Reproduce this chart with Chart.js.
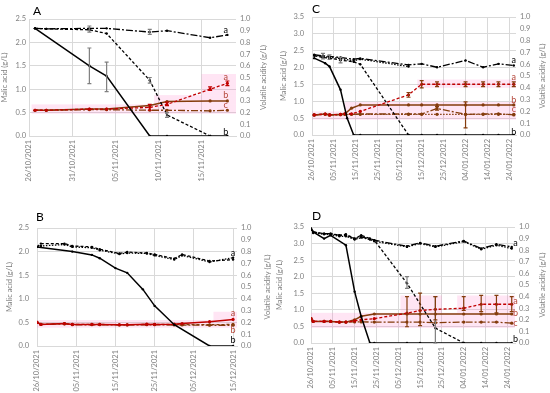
<!DOCTYPE html>
<html>
<head>
<title>Malic acid and volatile acidity</title>
<script src="https://cdn.jsdelivr.net/npm/chart.js@4.4.0/dist/chart.umd.min.js"></script>
<style>
  body{margin:0;background:#fff;}
  #wrap{position:relative;width:550px;height:393px;overflow:hidden;}
  canvas{position:absolute;}
  .tag{position:absolute;font:12px Lato, sans-serif;color:#000;}
</style>
</head>
<body>
<div id="wrap">
  <canvas id="chartA" width="275" height="195" style="left:0;top:0"></canvas>
  <canvas id="chartC" width="275" height="195" style="left:275px;top:0"></canvas>
  <canvas id="chartB" width="275" height="198" style="left:0;top:195px"></canvas>
  <canvas id="chartD" width="275" height="198" style="left:275px;top:195px"></canvas>
  <div class="tag" style="left:33px;top:3px">A</div>
  <div class="tag" style="left:312px;top:1px">C</div>
  <div class="tag" style="left:36px;top:209px">B</div>
  <div class="tag" style="left:312px;top:208px">D</div>
</div>
<script>
// ---------- data (x = days after 26/10/2021) ----------
// Panel A
var aX      = [0.7, 2, 7, 9, 14, 16, 21, 23];
var aSolidX = [0.7, 7, 9, 14, 16, 21, 23];
var aSolid  = [2.3, 1.5, 1.28, 0, 0, 0, 0];
var aDashX  = [0.7, 2, 7, 9, 14, 16, 21];
var aDash   = [2.3, 2.29, 2.27, 2.19, 1.19, 0.45, 0];
var aDashDot = [2.3, 2.29, 2.3, 2.3, 2.22, 2.25, 2.1, 2.16];
var aVaDash  = [0.22, 0.22, 0.23, 0.23, 0.245, 0.27, 0.40, 0.45];
var aVaSolid = [0.22, 0.22, 0.23, 0.23, 0.26, 0.295, 0.30, 0.30];
var aVaDashDot = [0.22, 0.22, 0.225, 0.225, 0.22, 0.22, 0.215, 0.22];

// Panel B
var bSolidX = [0, 9, 14, 16, 20, 23, 27, 30, 35, 44, 50];
var bSolid  = [2.1, 2.0, 1.93, 1.86, 1.65, 1.55, 1.2, 0.85, 0.45, 0, 0];
var bX      = [0, 1, 7, 9, 14, 16, 21, 23, 28, 30, 35, 37, 44, 50];
var bDash   = [2.1, 2.17, 2.17, 2.12, 2.1, 2.05, 1.96, 1.99, 1.97, 1.94, 1.85, 1.94, 1.8, 1.83];
var bDot    = [2.1, 2.12, 2.15, 2.1, 2.08, 2.03, 1.95, 1.97, 1.96, 1.92, 1.83, 1.92, 1.78, 1.87];
var bVaSolid = [0.2, 0.183, 0.19, 0.183, 0.183, 0.183, 0.18, 0.18, 0.185, 0.183, 0.185, 0.19, 0.206, 0.225];
var bVaDash  = [0.2, 0.183, 0.19, 0.183, 0.183, 0.183, 0.18, 0.18, 0.183, 0.183, 0.182, 0.182, 0.18, 0.183];
var bVaDashDot = [0.2, 0.183, 0.187, 0.18, 0.18, 0.18, 0.178, 0.178, 0.18, 0.18, 0.178, 0.178, 0.176, 0.176];

// Panel C
var cX      = [1, 5, 8, 13, 19, 22, 44, 50, 57, 70, 78, 85, 92];
var cSolidX = [1, 6, 8, 13, 16, 19, 22, 44, 50, 57, 70, 78, 85, 92];
var cSolid  = [2.28, 2.13, 2.03, 1.34, 0.5, 0, 0, 0, 0, 0, 0, 0, 0, 0];
var cDashX  = [1, 5, 8, 13, 19, 22, 44];
var cDash   = [2.35, 2.3, 2.28, 2.22, 2.17, 2.1, 0];
var cDot    = [2.37, 2.33, 2.3, 2.27, 2.2, 2.25, 2.03];
var cDashDot = [2.38, 2.35, 2.33, 2.3, 2.25, 2.27, 2.08, 2.11, 2.01, 2.21, 2.01, 2.11, 2.06];
var cRedX   = [1, 6, 8, 13, 15, 18, 22, 44, 50, 57, 70, 78, 85, 92];
var cVaDash  = [0.17, 0.178, 0.17, 0.175, 0.18, 0.18, 0.2, 0.34, 0.43, 0.43, 0.43, 0.43, 0.43, 0.43];
var cVaSolid = [0.17, 0.178, 0.17, 0.175, 0.18, 0.227, 0.255, 0.255, 0.255, 0.255, 0.255, 0.255, 0.255, 0.255];
var cVaDashDot = [0.17, 0.178, 0.17, 0.172, 0.175, 0.175, 0.178, 0.178, 0.178, 0.225, 0.175, 0.178, 0.18, 0.17];
var cVaDot   = [0.17, 0.175, 0.17, 0.172, 0.175, 0.175, 0.175, 0.175, 0.175, 0.175, 0.175, 0.175, 0.175, 0.175];

// Panel D
var dSolidX = [0, 1, 6, 9, 16, 20, 23, 27, 29, 44, 50, 57, 70, 78, 85, 92];
var dSolid  = [3.45, 3.35, 3.15, 3.25, 2.95, 1.55, 0.8, 0, 0, 0, 0, 0, 0, 0, 0, 0];
var dDashX  = [0, 1, 6, 9, 13, 16, 20, 23, 27, 29, 44, 57, 70];
var dDash   = [3.45, 3.35, 3.3, 3.3, 3.25, 3.28, 3.15, 3.25, 3.15, 3.1, 1.8, 0.45, 0];
var dX      = [0, 1, 6, 9, 13, 16, 20, 23, 27, 29, 44, 50, 57, 70, 78, 85, 92];
var dDashDot = [3.45, 3.35, 3.3, 3.3, 3.25, 3.25, 3.15, 3.2, 3.15, 3.1, 2.92, 3.02, 2.92, 3.08, 2.85, 2.98, 2.9];
var dDot     = [3.43, 3.32, 3.28, 3.27, 3.22, 3.22, 3.12, 3.18, 3.12, 3.07, 2.9, 3.0, 2.9, 3.06, 2.83, 2.95, 2.85];
var dRedX   = [0, 1, 6, 9, 13, 16, 20, 23, 29, 44, 50, 57, 70, 78, 85, 92];
var dVaDash  = [0.21, 0.186, 0.186, 0.186, 0.18, 0.18, 0.19, 0.2, 0.21, 0.257, 0.28, 0.29, 0.3, 0.334, 0.334, 0.334];
var dVaSolid = [0.21, 0.186, 0.186, 0.186, 0.18, 0.18, 0.2, 0.23, 0.25, 0.25, 0.25, 0.25, 0.25, 0.25, 0.25, 0.25];
var dVaDashDot = [0.21, 0.186, 0.186, 0.186, 0.18, 0.18, 0.182, 0.182, 0.18, 0.18, 0.18, 0.175, 0.18, 0.18, 0.18, 0.171];

// error bars: [day, low, high]
var aSolidErr = [[7, 1.12, 1.88], [9, 0.95, 1.58]];
var aDashErr  = [[14, 1.13, 1.25], [16, 0.4, 0.5]];
var aDashDotErr = [[7, 2.22, 2.35], [14, 2.17, 2.28]];
var aVaErr = [[14, 0.22, 0.27], [16, 0.26, 0.29], [21, 0.39, 0.42], [23, 0.43, 0.47]];
var cDashErr = [[5, 2.26, 2.42], [8, 2.24, 2.38], [13, 2.14, 2.3]];
var cVaErr = [[44, 0.32, 0.36], [50, 0.4, 0.46], [57, 0.41, 0.45], [70, 0.41, 0.45], [78, 0.41, 0.45], [85, 0.41, 0.45], [92, 0.41, 0.45]];
var cVaDashDotErr = [[57, 0.21, 0.24], [70, 0.06, 0.28]];
var dDashErr = [[44, 1.65, 2.0], [57, 0, 1.4]];
var dVaErr = [[44, 0.14, 0.4], [50, 0.15, 0.43], [57, 0.2, 0.4], [70, 0.28, 0.4], [78, 0.27, 0.41], [85, 0.26, 0.41], [92, 0.27, 0.4]];

// pink shaded boxes: [dayFrom, dayTo, low, high] on the volatile acidity axis
var aBands = [[0.3, 24, 0.19, 0.27], [14.5, 24, 0.27, 0.35], [20, 24, 0.35, 0.53]];
var bBands = [[0, 51, 0.155, 0.22], [45, 51, 0.22, 0.29]];
var cBands = [[0, 93, 0.13, 0.2], [15, 93, 0.2, 0.28], [48, 93, 0.4, 0.47]];
var dBands = [[0, 93.5, 0.13, 0.26], [41, 60, 0.26, 0.41], [67, 93.5, 0.26, 0.41]];

// letters beside the line ends: [text, day, value, axis, colour]
var BLACK = '#000000', RED = '#c00000', BROWN = '#843c0c', LBL = '#b5473a';
var aTags = [['a', 22.8, 2.26, 'y', BLACK], ['b', 22.8, 0.09, 'y', BLACK], ['a', 22.8, 0.5, 'y2', LBL], ['b', 22.8, 0.35, 'y2', LBL], ['c', 22.8, 0.265, 'y2', LBL]];
var bTags = [['a', 50, 1.96, 'y', BLACK], ['b', 50, 0.13, 'y', BLACK], ['a', 50, 0.276, 'y2', LBL], ['b', 50, 0.135, 'y2', LBL]];
var cTags = [['a', 92, 2.23, 'y', BLACK], ['b', 92, 0.1, 'y', BLACK], ['a', 92, 0.49, 'y2', LBL], ['b', 92, 0.3, 'y2', LBL], ['c', 92, 0.22, 'y2', LBL]];
var dTags = [['a', 93.7, 3.0, 'y', BLACK], ['b', 93.7, 0.12, 'y', BLACK], ['a', 93.7, 0.36, 'y2', LBL], ['b', 93.7, 0.255, 'y2', LBL], ['c', 93.7, 0.17, 'y2', LBL]];

// ---------- helpers ----------
var FONT = 'Lato, sans-serif';
var TICKC = '#7f7f7f', GRIDC = '#d9d9d9', GREY = '#7f7f7f';
var base = new Date(2021, 9, 26);

function pad(n) { return (n < 10 ? '0' : '') + n; }
function dayLabel(v) {
  var d = new Date(base.getTime());
  d.setDate(d.getDate() + v);
  return pad(d.getDate()) + '/' + pad(d.getMonth() + 1) + '/' + d.getFullYear();
}
function pts(xs, ys) { return xs.map(function (x, i) { return { x: x, y: ys[i] }; }); }

var DASHES = { solid: [], dash: [3, 2], dashdot: [7, 2, 2, 2], dot: [1.5, 1.5] };

function line(xs, ys, axis, color, kind, errs, errColor) {
  return {
    data: pts(xs, ys),
    yAxisID: axis,
    borderColor: color,
    backgroundColor: color,
    borderWidth: kind == 'solid' ? 1.5 : 1.3,
    borderDash: DASHES[kind],
    pointRadius: axis == 'y' ? 1.2 : 1.6,
    pointBorderWidth: 0,
    tension: 0,
    errs: errs || null,
    errColor: errColor || color
  };
}

var bandsPlugin = {
  id: 'bands',
  beforeDatasetsDraw: function (chart, args, opts) {
    var ctx = chart.ctx, xs = chart.scales.x, ys = chart.scales.y2;
    ctx.save();
    ctx.fillStyle = 'rgba(255,110,195,0.18)';
    (opts.boxes || []).forEach(function (b) {
      var x0 = xs.getPixelForValue(b[0]), x1 = xs.getPixelForValue(b[1]);
      var y0 = ys.getPixelForValue(b[3]), y1 = ys.getPixelForValue(b[2]);
      ctx.fillRect(x0, y0, x1 - x0, y1 - y0);
    });
    ctx.restore();
  }
};

var errPlugin = {
  id: 'errs',
  afterDatasetsDraw: function (chart) {
    var ctx = chart.ctx, xs = chart.scales.x;
    chart.data.datasets.forEach(function (ds) {
      if (!ds.errs) return;
      var ys = chart.scales[ds.yAxisID];
      ctx.save();
      ctx.strokeStyle = ds.errColor;
      ctx.lineWidth = 1.2;
      ds.errs.forEach(function (e) {
        var px = xs.getPixelForValue(e[0]), lo = ys.getPixelForValue(e[1]), hi = ys.getPixelForValue(e[2]);
        ctx.beginPath();
        ctx.moveTo(px, lo); ctx.lineTo(px, hi);
        ctx.moveTo(px - 2, lo); ctx.lineTo(px + 2, lo);
        ctx.moveTo(px - 2, hi); ctx.lineTo(px + 2, hi);
        ctx.stroke();
      });
      ctx.restore();
    });
  }
};

// letters a/b/c plus the right-hand axis title (reads bottom to top, like the left one)
var tagPlugin = {
  id: 'tags',
  afterDraw: function (chart, args, opts) {
    var ctx = chart.ctx, xs = chart.scales.x, area = chart.chartArea;
    ctx.save();
    ctx.font = '9px ' + FONT;
    ctx.textAlign = 'center';
    ctx.textBaseline = 'middle';
    (opts.items || []).forEach(function (t) {
      ctx.fillStyle = t[4];
      ctx.fillText(t[0], xs.getPixelForValue(t[1]), chart.scales[t[3]].getPixelForValue(t[2]));
    });
    ctx.translate(opts.rtitleX, (area.top + area.bottom) / 2);
    ctx.rotate(-Math.PI / 2);
    ctx.font = '7.5px ' + FONT;
    ctx.fillStyle = GREY;
    ctx.fillText('Volatile acidity (g/L)', 0, 0);
    ctx.restore();
  }
};

function panel(id, box, xMax, xStep, yMax, datasets, bands, tags) {
  var tickFont = { family: FONT, size: 7.5 };
  return new Chart(document.getElementById(id), {
    type: 'line',
    data: { datasets: datasets },
    plugins: [bandsPlugin, errPlugin, tagPlugin],
    options: {
      responsive: false,
      animation: false,
      devicePixelRatio: 1,
      layout: { padding: { top: box.top, left: 0, right: 0, bottom: 0 } },
      plugins: {
        legend: { display: false },
        tooltip: { enabled: false },
        bands: { boxes: bands },
        tags: { items: tags, rtitleX: box.rtitle }
      },
      scales: {
        x: {
          type: 'linear', min: 0, max: xMax,
          ticks: { stepSize: xStep, includeBounds: false, autoSkip: false, maxRotation: 90, minRotation: 90,
                   padding: 4, color: TICKC, font: tickFont, callback: dayLabel },
          grid: { color: GRIDC, drawTicks: false },
          border: { color: GRIDC },
          afterFit: function (s) { s.height = box.h - box.bottom; }
        },
        y: {
          position: 'left', min: 0, max: yMax,
          ticks: { stepSize: 0.5, autoSkip: false, padding: box.lpad, color: TICKC, font: tickFont,
                   callback: function (v) { return v.toFixed(1); } },
          grid: { color: GRIDC, drawTicks: false },
          border: { display: false },
          title: { display: true, text: 'Malic acid (g/L)', color: GREY, font: tickFont, padding: { top: box.ltitle, bottom: 0 } },
          afterFit: function (s) { s.width = box.left; }
        },
        y2: {
          position: 'right', min: 0, max: 1,
          ticks: { stepSize: 0.1, autoSkip: false, padding: 4, color: TICKC, font: tickFont,
                   callback: function (v) { return v.toFixed(1); } },
          grid: { display: false, drawTicks: false },
          border: { display: false },
          afterFit: function (s) { s.width = box.w - box.right; }
        }
      }
    }
  });
}

// ---------- panels ----------
panel('chartA', { w: 275, h: 195, left: 29, right: 236, top: 19, bottom: 136, lpad: 3, ltitle: 0, rtitle: 264 }, 24, 5, 2.5, [
  line(aSolidX, aSolid, 'y', BLACK, 'solid', aSolidErr, GREY),
  line(aDashX, aDash, 'y', BLACK, 'dash', aDashErr, GREY),
  line(aX, aDashDot, 'y', BLACK, 'dashdot', aDashDotErr, GREY),
  line(aX, aVaDash, 'y2', RED, 'dash', aVaErr, RED),
  line(aX, aVaSolid, 'y2', BROWN, 'solid'),
  line(aX, aVaDashDot, 'y2', BROWN, 'dashdot')
], aBands, aTags);

panel('chartC', { w: 275, h: 195, left: 37, right: 241, top: 17, bottom: 135, lpad: 8, ltitle: 4, rtitle: 268 }, 93, 10, 3.5, [
  line(cSolidX, cSolid, 'y', BLACK, 'solid'),
  line(cDashX, cDash, 'y', BLACK, 'dash', cDashErr, GREY),
  line(cDashX, cDot, 'y', BLACK, 'dot'),
  line(cX, cDashDot, 'y', BLACK, 'dashdot'),
  line(cRedX, cVaDash, 'y2', RED, 'dash', cVaErr, BROWN),
  line(cRedX, cVaSolid, 'y2', BROWN, 'solid'),
  line(cRedX, cVaDashDot, 'y2', BROWN, 'dashdot', cVaDashDotErr, BROWN),
  line(cRedX, cVaDot, 'y2', BROWN, 'dot')
], cBands, cTags);

panel('chartB', { w: 275, h: 198, left: 37, right: 237, top: 33, bottom: 151, lpad: 8, ltitle: 5, rtitle: 268 }, 51, 10, 2.5, [
  line(bSolidX, bSolid, 'y', BLACK, 'solid'),
  line(bX, bDash, 'y', BLACK, 'dash'),
  line(bX, bDot, 'y', BLACK, 'dot'),
  line(bX, bVaSolid, 'y2', RED, 'solid'),
  line(bX, bVaDash, 'y2', BROWN, 'dash'),
  line(bX, bVaDashDot, 'y2', BROWN, 'dashdot')
], bBands, bTags);

panel('chartD', { w: 275, h: 198, left: 36, right: 240, top: 32, bottom: 148, lpad: 7, ltitle: 0, rtitle: 268 }, 93.5, 10, 3.5, [
  line(dSolidX, dSolid, 'y', BLACK, 'solid'),
  line(dDashX, dDash, 'y', BLACK, 'dash', dDashErr, GREY),
  line(dX, dDashDot, 'y', BLACK, 'dashdot'),
  line(dX, dDot, 'y', BLACK, 'dot'),
  line(dRedX, dVaDash, 'y2', RED, 'dash', dVaErr, BROWN),
  line(dRedX, dVaSolid, 'y2', BROWN, 'solid'),
  line(dRedX, dVaDashDot, 'y2', BROWN, 'dashdot')
], dBands, dTags);
</script>
</body>
</html>
